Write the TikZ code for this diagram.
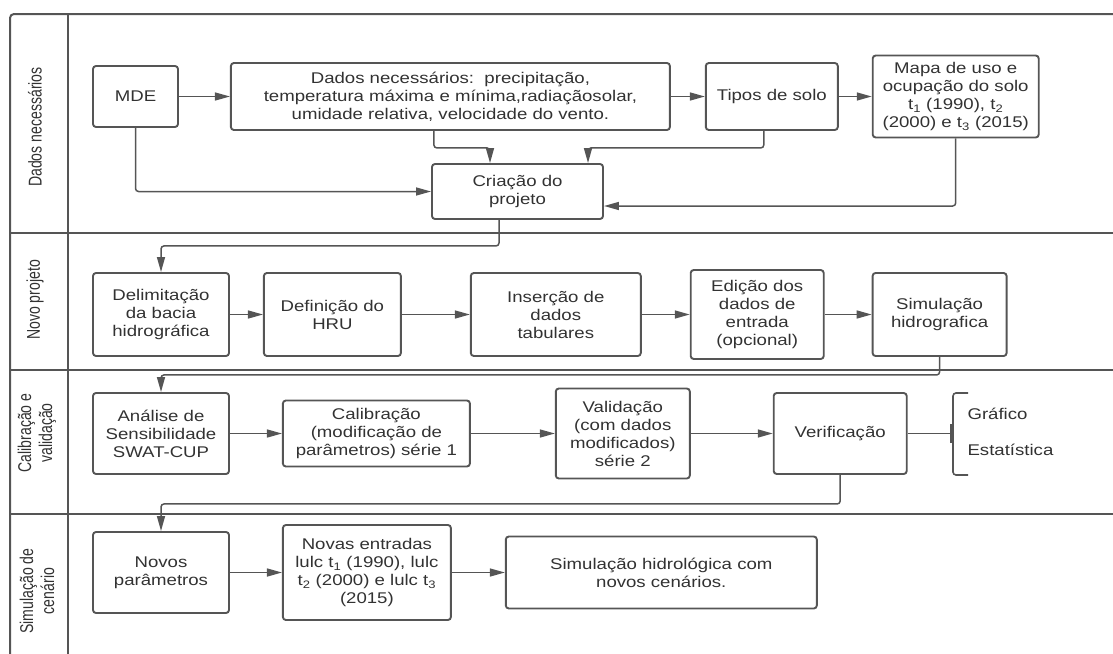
\documentclass[tikz,border=0pt]{standalone}
\usepackage{fontspec}
\setmainfont{Liberation Sans}[FakeStretch=1.2]
\newfontfamily\lanefont{Liberation Sans}[FakeStretch=0.76]
\usetikzlibrary{arrows.meta,positioning}
\definecolor{linegray}{RGB}{85,85,85}
\definecolor{textgray}{RGB}{50,50,50}

\begin{document}
\begin{tikzpicture}[x=1pt, y=-1pt,
    box/.style={rectangle, draw=linegray, line width=1.9pt, rounded corners=3pt, align=center, text=textgray, inner sep=2pt, font=\fontsize{15.5}{18}\selectfont},
    lane/.style={rotate=90, align=center, text=textgray, font=\lanefont\fontsize{18.5}{21}\selectfont},
    flow/.style={draw=linegray, line width=1.5pt, rounded corners=3pt, -{Triangle[length=15pt,width=8pt]}},
    frame/.style={draw=linegray, line width=2pt}]
    \useasboundingbox (0,0) rectangle (1113,653);
    \clip (0,0) rectangle (1113,653);

    % Lanes of the frame
    \draw [frame, rounded corners=4pt] (10,670) -- (10,14) -- (1130,14);
    \draw [frame] (68,14) -- (68,670);
    \foreach \y in {233,370,514}
        \draw [frame] (10,\y) -- (1130,\y);
    \node [lane] (lane1) at (35,127) {Dados necessários};
    \node [lane] (lane2) at (35,300) {Novo projeto};
    \node [lane] (lane3) at (37,433) {Calibração e\\ validação};
    \node [lane] (lane4) at (37,591) {Simulação de\\ cenário};

    % Dados necessários
    \node [box, minimum width=85pt, minimum height=61pt] (mde) at (135.5,96.5) {MDE};
    \node [box, minimum width=439pt, minimum height=67pt, right=51pt of mde] (dados) {
        Dados necessários:~~precipitação,\\
        temperatura máxima e mínima,radiaçãosolar,\\
        umidade relativa, velocidade do vento.
    };
    \node [box, minimum width=132pt, minimum height=67pt, right=34pt of dados] (tipos) {Tipos de solo};
    \node [box, minimum width=166pt, minimum height=82pt, right=33pt of tipos] (mapa) {
        Mapa de uso e\\
        ocupação do solo\\
        t\textsubscript{1} (1990), t\textsubscript{2}\\
        (2000) e t\textsubscript{3} (2015)
    };
    \node [box, minimum width=171pt, minimum height=55pt] (criacao) at (517.5,191.5) {Criação do\\ projeto};

    \draw [flow] (mde) -- (dados);
    \draw [flow] (dados) -- (tipos);
    \draw [flow] (tipos) -- (mapa);
    \draw [flow] (mde.south) |- (criacao.west);
    \draw [flow] ([xshift=-16.5pt]dados.south) -- ++(0,17) -| ([xshift=-27.5pt]criacao.north);
    \draw [flow] ([xshift=-8pt]tipos.south) -- ++(0,17) -| ([xshift=70.5pt]criacao.north);
    \draw [flow] (mapa.south) |- ([yshift=-14.5pt]criacao.east);

    % Novo projeto
    \node [box, minimum width=136pt, minimum height=83pt] (delim) at (161,314.5) {Delimitação\\ da bacia\\ hidrográfica};
    \node [box, minimum width=137pt, minimum height=83pt, right=33pt of delim] (defhru) {Definição do\\ HRU};
    \node [box, minimum width=170pt, minimum height=83pt, right=68pt of defhru] (insercao) {Inserção de\\ dados\\ tabulares};
    \node [box, minimum width=133pt, minimum height=89pt, right=48pt of insercao] (edicao) {Edição dos\\ dados de\\ entrada\\ (opcional)};
    \node [box, minimum width=134pt, minimum height=83pt, right=47pt of edicao] (simhidro) {Simulação\\ hidrografica};

    \draw [flow] ([xshift=-18.5pt]criacao.south) -- ++(0,26) -| (delim.north);
    \draw [flow] (delim) -- (defhru);
    \draw [flow] (defhru) -- (insercao);
    \draw [flow] (insercao) -- (edicao);
    \draw [flow] (edicao) -- (simhidro);

    % Calibração e validação
    \node [box, minimum width=136pt, minimum height=81pt] (analise) at (161,433.5) {Análise de\\ Sensibilidade\\ SWAT-CUP};
    \node [box, minimum width=187pt, minimum height=66pt, right=52pt of analise] (calib) {Calibração\\ (modificação de\\ parâmetros) série 1};
    \node [box, minimum width=134pt, minimum height=90pt, right=84pt of calib] (valid) {Validação\\ (com dados\\ modificados)\\ série 2};
    \node [box, minimum width=133pt, minimum height=81pt, right=82pt of valid] (verif) {Verificação};
    \coordinate (brace) at (953,433.5);
    \node [text=textgray, anchor=west, font=\fontsize{15.5}{18}\selectfont] (grafico) at (964,414) {Gráfico};
    \node [text=textgray, anchor=west, font=\fontsize{15.5}{18}\selectfont] (estat) at (964,450) {Estatística};

    \draw [flow] (simhidro.south) -- ++(0,18) -| (analise.north);
    \draw [flow] (analise) -- (calib);
    \draw [flow] (calib) -- (valid);
    \draw [flow] (valid) -- (verif);
    \draw [draw=linegray, line width=1.5pt] (verif) -- (brace);
    \draw [draw=linegray, line width=1.6pt, rounded corners=3pt] (968,393) -- (953,393) -- (953,475) -- (968,475);
    \draw [draw=linegray, line width=3.2pt] (952,424) -- (952,443);

    % Simulação de cenário
    \node [box, minimum width=136pt, minimum height=81pt] (novos) at (161,572.5) {Novos\\ parâmetros};
    \node [box, minimum width=168pt, minimum height=95pt, right=52pt of novos] (entradas) {
        Novas entradas\\
        lulc t\textsubscript{1} (1990), lulc\\
        t\textsubscript{2} (2000) e lulc t\textsubscript{3}\\
        (2015)
    };
    \node [box, minimum width=311pt, minimum height=72pt, right=53pt of entradas] (simcen) {Simulação hidrológica com\\ novos cenários.};

    \draw [flow] (verif.south) -- ++(0,29) -| (novos.north);
    \draw [flow] (novos) -- (entradas);
    \draw [flow] (entradas) -- (simcen);
\end{tikzpicture}
\end{document}
